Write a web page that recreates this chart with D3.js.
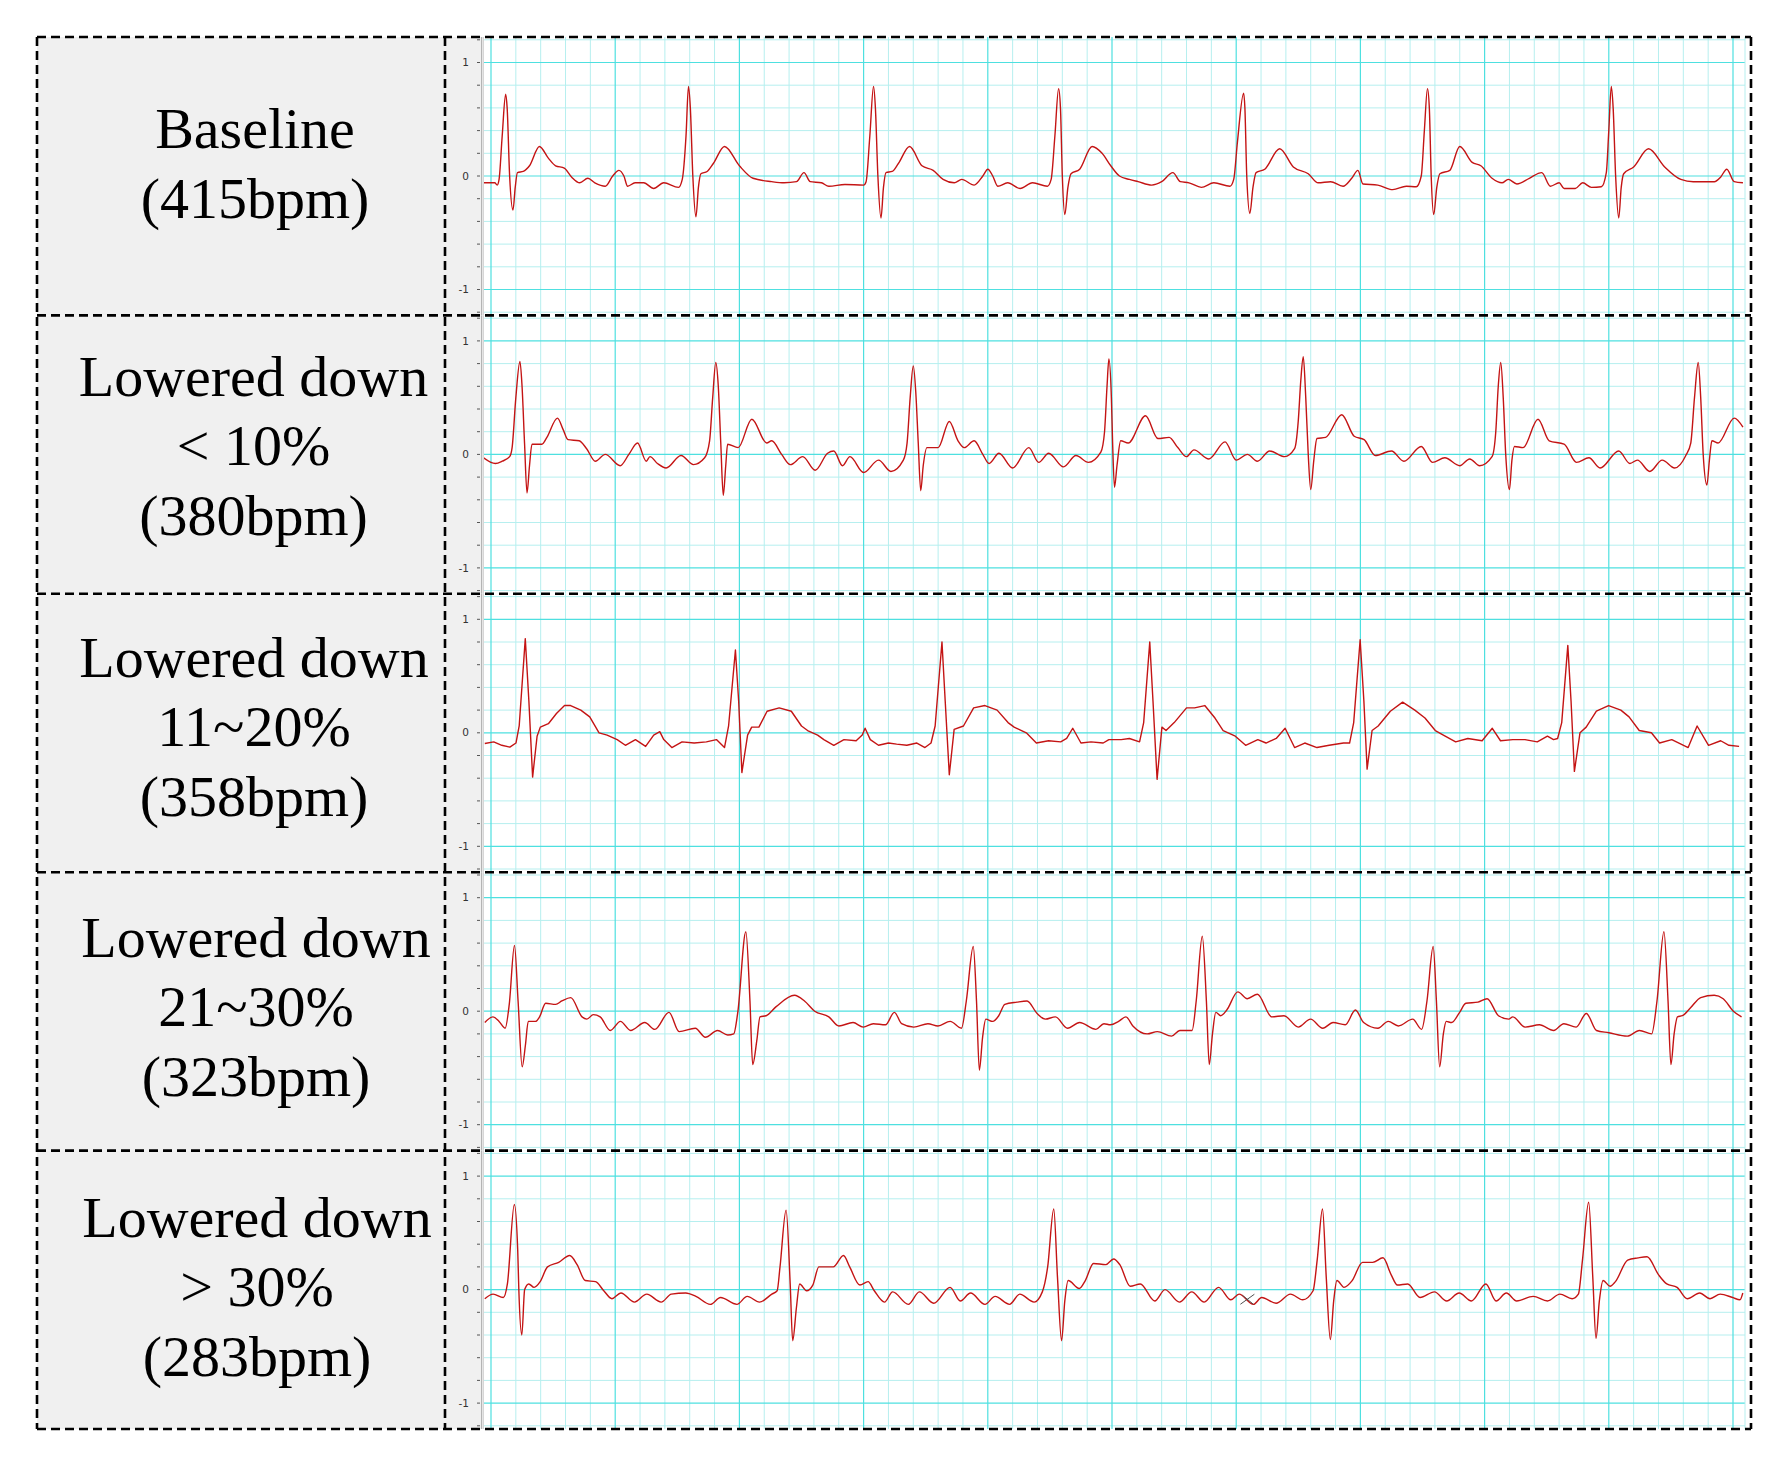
<!DOCTYPE html>
<html>
<head>
<meta charset="utf-8">
<script src="https://cdn.jsdelivr.net/npm/d3@7/dist/d3.min.js"></script>
<style>
  html, body { margin: 0; padding: 0; background: #ffffff; }
  svg { display: block; }
</style>
</head>
<body>
<svg id="chart" width="1791" height="1469"></svg>
<script>
// ---------------- DATA ----------------
const labels = [
  ["Baseline", "(415bpm)"],
  ["Lowered down", "< 10%", "(380bpm)"],
  ["Lowered down", "11~20%", "(358bpm)"],
  ["Lowered down", "21~30%", "(323bpm)"],
  ["Lowered down", "> 30%", "(283bpm)"]
];
const yTickLabels = [1, 0, -1];
const yMinorTicks = [-1.2, -1, -0.8, -0.6, -0.4, -0.2, 0, 0.2, 0.4, 0.6, 0.8, 1, 1.2];

// time (ms), amplitude
const ecgBaseline = [[-6,-0.06],[3,-0.06],[5,-0.08],[6.5,-0.03],[9,0.35],[11.8,0.72],[13,0.6],[15,0.0],[17.7,-0.30],[19.5,-0.1],[21.3,0.03],[26,0.04],[31,0.09],[39,0.26],[46,0.16],[52,0.09],[59,0.07],[65,-0.01],[71.5,-0.06],[78,-0.02],[83.6,-0.06],[92,-0.09],[98,0.0],[103,0.05],[107,0.0],[110,-0.09],[116,-0.06],[123,-0.06],[131,-0.11],[139,-0.06],[151,-0.10],[154,-0.03],[157,0.35],[159,0.79],[160.5,0.6],[162.5,0.0],[165,-0.36],[167,-0.1],[169,0.02],[174,0.04],[179,0.11],[188,0.26],[200,0.09],[211,-0.02],[226,-0.05],[236,-0.06],[246,-0.05],[252,0.03],[257,-0.05],[266,-0.06],[272,-0.09],[285,-0.075],[300,-0.08],[302,-0.05],[305,0.35],[308,0.79],[309.5,0.6],[311.5,0.0],[314,-0.37],[316,-0.1],[318,0.03],[323,0.04],[328,0.11],[337,0.26],[347,0.09],[356,0.05],[364,-0.03],[373,-0.06],[379,-0.03],[389,-0.08],[396,0.0],[400,0.06],[404,0.0],[408,-0.09],[416,-0.06],[426,-0.11],[436,-0.06],[448,-0.09],[451,-0.03],[454,0.35],[457,0.77],[458.5,0.6],[460,0.0],[462,-0.34],[464.5,-0.1],[467,0.02],[474,0.06],[484,0.26],[492,0.20],[499,0.09],[506,0.0],[514,-0.03],[521,-0.05],[532,-0.08],[540,-0.05],[549,0.03],[555,-0.05],[562,-0.06],[572,-0.10],[582,-0.06],[595,-0.09],[598,-0.03],[601,0.3],[606,0.73],[607,0.6],[608.5,0.0],[611,-0.33],[613.5,-0.1],[616,0.03],[623,0.06],[635,0.24],[646,0.08],[658,0.02],[666,-0.06],[676,-0.05],[686,-0.09],[693,-0.02],[698,0.05],[702,-0.07],[714,-0.08],[726,-0.12],[737,-0.09],[745,-0.095],[749,0.0],[751.5,0.4],[754,0.77],[755.5,0.6],[757,0.0],[759,-0.34],[761.5,-0.1],[764,0.02],[772,0.05],[780,0.26],[790,0.12],[797,0.09],[806,-0.02],[814,-0.06],[819,-0.03],[826,-0.07],[836,-0.02],[846,0.03],[853,-0.09],[860,-0.06],[864,-0.11],[873,-0.11],[879,-0.06],[886,-0.10],[894,-0.095],[898,0.03],[900,0.4],[902,0.79],[903.5,0.6],[905.5,0.0],[908,-0.37],[910,-0.1],[912,0.02],[920,0.08],[932,0.24],[945,0.08],[958,-0.03],[968,-0.05],[985,-0.05],[990,-0.01],[995,0.06],[1001,-0.05],[1008,-0.06]];

const ecgLower10 = [[-6,-0.03],[3.5,-0.08],[9,-0.06],[15,-0.02],[17,0.06],[20,0.5],[23.3,0.82],[25,0.6],[27,0.1],[29,-0.34],[31,-0.1],[33,0.09],[41,0.09],[45,0.15],[53.5,0.32],[58,0.22],[62,0.13],[71,0.12],[77,0.05],[84,-0.06],[92,0.0],[104,-0.10],[111,0.0],[118,0.10],[125,-0.06],[128,-0.02],[134,-0.08],[141,-0.12],[153,-0.01],[163,-0.09],[172,-0.03],[176,0.12],[178.5,0.5],[181,0.81],[183,0.6],[185,0.1],[187,-0.36],[189,-0.1],[190.5,0.09],[199,0.06],[210,0.31],[222,0.10],[226,0.12],[234,0.0],[241,-0.09],[251,-0.02],[261,-0.14],[271,0.01],[276,0.03],[283,-0.10],[289,-0.02],[300,-0.16],[312,-0.05],[322,-0.15],[332,-0.05],[335,0.1],[337.5,0.5],[340,0.78],[342,0.55],[344,0.1],[346,-0.32],[348,-0.1],[351,0.06],[360,0.06],[369,0.29],[376,0.12],[381,0.06],[389,0.12],[396,0.0],[401,-0.08],[409,0.01],[420,-0.12],[433,0.06],[441,-0.07],[449,0.01],[461,-0.11],[471,-0.01],[481,-0.07],[491,0.02],[494,0.2],[496,0.6],[497.5,0.84],[499.5,0.5],[500.5,0.1],[502,-0.29],[504,-0.1],[507,0.12],[513,0.10],[527,0.34],[537,0.14],[546,0.15],[553,0.06],[560,-0.02],[566,0.04],[578,-0.04],[591,0.11],[600,-0.05],[609,0.0],[617,-0.06],[627,0.03],[639,-0.02],[647,0.05],[650,0.3],[652,0.65],[654,0.86],[656,0.5],[658,0.0],[660,-0.31],[662.5,-0.05],[665,0.14],[672,0.15],[685,0.35],[695,0.16],[703,0.13],[712,-0.01],[725,0.03],[735,-0.06],[749,0.07],[758,-0.07],[768,-0.03],[780,-0.10],[788,-0.04],[796,-0.10],[806,-0.02],[809,0.2],[811,0.6],[813,0.81],[815,0.5],[817,0.0],[820,-0.31],[822,-0.05],[824,0.07],[831,0.06],[843,0.31],[852,0.12],[864,0.09],[874,-0.07],[884,-0.03],[893,-0.12],[908,0.03],[917,-0.08],[923,-0.05],[933,-0.15],[943,-0.05],[953,-0.12],[962,-0.01],[966,0.1],[969,0.5],[972,0.81],[974,0.5],[976,0.0],[979,-0.27],[981,-0.05],[983,0.12],[988,0.10],[1001,0.32],[1008,0.24]];

const ecgLower20 = [[-5,-0.094],[2.2,-0.08],[8.7,-0.11],[15.2,-0.126],[20.1,-0.09],[22.7,0.06],[27.6,0.83],[30.5,0.28],[33.5,-0.39],[37.1,-0.03],[39.7,0.05],[46.2,0.08],[52.7,0.17],[59.2,0.24],[64.1,0.24],[72.3,0.20],[79.5,0.14],[87,0],[93.5,-0.02],[101.6,-0.06],[108.2,-0.11],[116.3,-0.06],[124.5,-0.12],[131,-0.02],[135.9,0.01],[139.1,-0.06],[145.6,-0.13],[153.8,-0.08],[163.6,-0.09],[173.4,-0.08],[181.5,-0.06],[188,-0.13],[191.3,0.06],[196.8,0.73],[199.4,0.28],[202,-0.35],[206.6,-0.02],[209.9,0.05],[215.7,0.05],[222.3,0.19],[232,0.22],[241.8,0.19],[250,0.06],[254.9,0.02],[263,-0.02],[268,-0.06],[276,-0.11],[284.2,-0.06],[294,-0.07],[298.9,-0.02],[301.2,0.04],[305.4,-0.06],[312,-0.11],[320,-0.09],[326.6,-0.10],[334.8,-0.11],[342.9,-0.09],[349.4,-0.13],[354.3,-0.09],[357.6,0.06],[363.1,0.80],[365.7,0.28],[369,-0.37],[372.9,0.03],[380.4,0.06],[388.6,0.22],[397.7,0.24],[407.5,0.20],[416.3,0.09],[421.2,0.05],[431,0],[439.1,-0.09],[448.9,-0.07],[458.7,-0.08],[463.5,-0.05],[468.4,0.04],[475,-0.09],[483.1,-0.08],[492.9,-0.09],[497.5,-0.06],[507.4,-0.06],[514,-0.05],[522.2,-0.08],[525.5,0.09],[530.4,0.80],[533,0.28],[536.3,-0.41],[540.2,0.05],[543.5,0.02],[550.1,0.09],[560,0.22],[566.5,0.22],[574.7,0.24],[582.9,0.13],[589.5,0.02],[599.3,-0.03],[607.6,-0.11],[617.4,-0.06],[624,-0.09],[632.2,-0.05],[639.4,0.04],[647,-0.13],[655.2,-0.09],[665,-0.13],[674.9,-0.11],[686.4,-0.09],[691.3,-0.09],[694.6,0.09],[699.8,0.82],[702.8,0.28],[705.4,-0.32],[709.4,0.02],[714.3,0.06],[724.1,0.19],[734,0.27],[743.8,0.20],[752,0.13],[760.3,0.02],[766.8,-0.02],[776.7,-0.08],[786.5,-0.05],[798,-0.07],[806.2,0.04],[812.8,-0.07],[822.7,-0.06],[832.5,-0.06],[842.4,-0.08],[850.6,-0.03],[855.5,-0.06],[858.8,-0.05],[862.1,0.09],[867,0.77],[869.6,0.28],[872.3,-0.34],[876.8,0],[881.8,0.05],[890,0.19],[899.8,0.24],[909.7,0.20],[916.3,0.14],[924.5,0.02],[934.3,0],[940.9,-0.09],[950.7,-0.06],[963.9,-0.13],[971.1,0.06],[980.3,-0.11],[990.1,-0.07],[996.7,-0.11],[1004.9,-0.12]];

const ecgLower30 = [[-5,-0.10],[1.6,-0.05],[6.5,-0.09],[11.4,-0.15],[14.7,0.06],[18.9,0.58],[21.8,0.09],[25.1,-0.49],[27.7,-0.30],[30,-0.09],[35.8,-0.09],[39.1,-0.05],[44,0.07],[52.1,0.06],[57,0.09],[64.2,0.12],[73.3,-0.05],[77.2,-0.07],[82.4,-0.03],[87.9,-0.05],[96.1,-0.17],[104.2,-0.09],[112.4,-0.17],[123.8,-0.10],[131.9,-0.16],[143.3,-0.01],[151.5,-0.18],[164.5,-0.15],[172.6,-0.23],[182.4,-0.17],[190.6,-0.21],[195.4,-0.20],[198.7,-0.01],[205.2,0.70],[208.5,0.09],[210.7,-0.47],[214,-0.26],[216.6,-0.05],[221.5,-0.04],[229.6,0.04],[244.3,0.14],[252.4,0.09],[260.6,0],[272,-0.05],[280.1,-0.13],[291.5,-0.10],[299.7,-0.14],[307.8,-0.11],[317.6,-0.12],[324.8,-0.01],[330.6,-0.11],[340.4,-0.14],[351.8,-0.11],[359.9,-0.13],[369.7,-0.09],[378.8,-0.15],[382.7,0.09],[388.3,0.57],[390.9,0.09],[393.2,-0.52],[395.8,-0.23],[398.4,-0.07],[403.9,-0.09],[408.8,-0.04],[413.7,0.06],[423.5,0.08],[431.6,0.09],[439.7,-0.02],[446.3,-0.07],[454.4,-0.05],[464.2,-0.15],[473.9,-0.10],[487,-0.16],[493.5,-0.11],[498.7,-0.12],[505.3,-0.09],[511.2,-0.05],[516.8,-0.13],[528.3,-0.20],[536.5,-0.18],[548,-0.22],[554.6,-0.17],[564.5,-0.17],[567.8,0.09],[572.7,0.66],[576,0.09],[578.3,-0.47],[580.9,-0.20],[583.6,-0.01],[587.5,-0.04],[592.4,0.01],[601.3,0.17],[608.9,0.11],[617.1,0.15],[628.6,-0.05],[638.5,-0.04],[650,-0.14],[659.9,-0.07],[669.7,-0.15],[678,-0.10],[687.8,-0.12],[696,0.01],[702.6,-0.10],[714.1,-0.15],[722.4,-0.09],[730.6,-0.13],[742.1,-0.07],[749.3,-0.16],[753.6,0.09],[758.6,0.57],[761.2,0.09],[763.8,-0.49],[766.8,-0.20],[769.1,-0.09],[773.4,-0.10],[779.9,-0.01],[784.9,0.07],[794.7,0.08],[802,0.11],[811.2,-0.04],[819.4,-0.07],[822.7,-0.05],[832.6,-0.14],[844.1,-0.12],[855.6,-0.17],[863.8,-0.11],[873.7,-0.14],[881.9,-0.02],[890.1,-0.17],[900,-0.19],[914.8,-0.22],[924.7,-0.17],[934.5,-0.20],[938.8,0.09],[944.4,0.70],[947.7,0.09],[950,-0.47],[952.6,-0.20],[955.3,-0.05],[959.2,-0.04],[965.8,0.03],[974,0.12],[984.9,0.14],[992.1,0.11],[1000.3,0],[1006.9,-0.05]];

const ecgOver30 = [[-5,-0.08],[1.7,-0.04],[9.9,-0.07],[13.2,0.05],[18.8,0.75],[21.5,0.35],[22.4,0],[24.8,-0.40],[27.1,0],[30.4,0.05],[34.7,0.02],[39.6,0.07],[45.5,0.20],[54.5,0.24],[63.4,0.30],[69.3,0.22],[75.9,0.08],[84.2,0.07],[90.8,-0.01],[97.4,-0.08],[104.6,-0.03],[115.5,-0.11],[125.4,-0.04],[137,-0.11],[145.2,-0.04],[156.8,-0.03],[165,-0.06],[176.6,-0.13],[184.8,-0.07],[198,-0.13],[206.3,-0.06],[216.2,-0.11],[226.1,-0.04],[230.4,-0.01],[232.7,0.20],[237.6,0.70],[240.9,0.05],[242.9,-0.45],[245.9,-0.16],[248.5,0.05],[254.1,-0.01],[259.1,0.04],[264,0.20],[275.6,0.20],[283.8,0.30],[288.8,0.20],[297,0.04],[303.6,0.07],[308.6,-0.01],[316.8,-0.11],[323.4,-0.02],[336,-0.13],[344.9,-0.02],[356.4,-0.12],[369.6,0.02],[377.9,-0.10],[386.1,-0.03],[397.7,-0.13],[405.9,-0.06],[417.5,-0.13],[425.7,-0.04],[437.3,-0.11],[443.9,-0.02],[448.2,0.20],[453.1,0.71],[456.1,0.11],[459.4,-0.45],[462,-0.10],[464.7,0.08],[473.6,0.01],[478.5,0.08],[485.1,0.23],[495,0.22],[501.3,0.27],[506.3,0.22],[514.6,0.03],[522.8,0.05],[534.4,-0.10],[542.7,0],[554.3,-0.11],[564.2,-0.02],[574.2,-0.11],[585.8,0.02],[595.7,-0.09],[602.3,-0.04],[613.9,-0.13],[620.5,-0.07],[632.1,-0.12],[643.7,-0.04],[653.6,-0.09],[661.9,-0.01],[665.2,0.26],[669.5,0.71],[672.5,0.11],[675.8,-0.44],[678.5,-0.10],[681.1,0.08],[686.8,0.02],[693.4,0.08],[701.7,0.24],[709.9,0.24],[718.2,0.28],[724.8,0.13],[729.8,0.04],[738.1,0.05],[748,-0.07],[759.6,-0.02],[769.5,-0.10],[779.5,-0.03],[789.4,-0.10],[801,0.05],[809.3,-0.10],[817.5,-0.03],[825.8,-0.10],[839.1,-0.06],[850.7,-0.10],[860.6,-0.04],[870.5,-0.08],[875.5,-0.04],[878.8,0.26],[883.8,0.77],[887.1,0.11],[889.7,-0.43],[892.4,-0.10],[895.4,0.08],[901,0.03],[905.3,0.07],[915.2,0.26],[923.5,0.28],[930.8,0.29],[940.1,0.13],[946.7,0.05],[955,0.02],[963.2,-0.08],[973.2,-0.03],[981.5,-0.08],[989.7,-0.04],[999.7,-0.07],[1005.6,-0.09],[1007.9,-0.03]];

const traces = [ecgBaseline, ecgLower10, ecgLower20, ecgLower30, ecgOver30];
const cursorMark = [609, -0.085]; // small cross cursor seen in last panel

// ---------------- LAYOUT ----------------
const leftX = 37, divX = 445, rightX = 1751;
const topY = 37, panelH = 278.4;
const plotL = 484, plotR = 1745;
const labelCx = [255, 253.5, 254, 256, 257];
const labelFirstBase = [111, 80.5, 82.8, 84.6, 86];
const lineGap = 69.5;

const svg = d3.select("#chart");
svg.append("rect").attr("width", 1791).attr("height", 1469).attr("fill", "#ffffff");

const x = d3.scaleLinear().domain([0, 1000]).range([491, 1733]);
const minorT = d3.range(0, 1001, 20);
const majorT = d3.range(0, 1001, 100);

const defs = svg.append("defs");

traces.forEach((data, i) => {
  const top = topY + i * panelH;
  const bot = top + panelH;
  const y = d3.scaleLinear().domain([-1, 1]).range([top + 252.5, top + 25.5]);
  const g = svg.append("g");

  // label cell background
  g.append("rect").attr("x", leftX).attr("y", top).attr("width", divX - leftX).attr("height", panelH)
    .attr("fill", "#f0f0f0");
  // axis strip
  g.append("rect").attr("x", divX).attr("y", top).attr("width", plotL - divX).attr("height", panelH)
    .attr("fill", "#f0f0f0");
  // plot background
  g.append("rect").attr("x", plotL).attr("y", top).attr("width", rightX - plotL).attr("height", panelH)
    .attr("fill", "#ffffff");

  const clipId = "clip" + i;
  defs.append("clipPath").attr("id", clipId).append("rect")
    .attr("x", plotL).attr("y", top).attr("width", plotR - plotL).attr("height", panelH);

  const grid = g.append("g").attr("clip-path", `url(#${clipId})`);
  // minor verticals
  grid.selectAll(".vmin").data(minorT.filter(t => t % 100 !== 0)).join("line")
    .attr("x1", d => x(d)).attr("x2", d => x(d)).attr("y1", top).attr("y2", bot)
    .attr("stroke", "#b6efef").attr("stroke-width", 1);
  // minor horizontals
  grid.selectAll(".hmin").data(yMinorTicks.filter(v => Math.abs(v) !== 1 && v !== 0)).join("line")
    .attr("x1", plotL).attr("x2", plotR).attr("y1", d => y(d)).attr("y2", d => y(d))
    .attr("stroke", "#b6efef").attr("stroke-width", 1);
  // major verticals
  grid.selectAll(".vmaj").data(majorT).join("line")
    .attr("x1", d => x(d)).attr("x2", d => x(d)).attr("y1", top).attr("y2", bot)
    .attr("stroke", "#4ee0e0").attr("stroke-width", 1.2);
  // major horizontals
  grid.selectAll(".hmaj").data(yTickLabels).join("line")
    .attr("x1", plotL).attr("x2", plotR).attr("y1", d => y(d)).attr("y2", d => y(d))
    .attr("stroke", "#4ee0e0").attr("stroke-width", 1.2);
  // plot right edge line
  g.append("line").attr("x1", plotR).attr("x2", plotR).attr("y1", top).attr("y2", bot)
    .attr("stroke", "#b6efef").attr("stroke-width", 1);

  // trace
  const line = d3.line().x(d => x(d[0])).y(d => y(d[1]))
    .curve(i === 2 ? d3.curveLinear : d3.curveMonotoneX);
  grid.append("path").datum(data).attr("d", line)
    .attr("fill", "none").attr("stroke", "#c41414").attr("stroke-width", 1.4)
    .attr("stroke-linejoin", "round");

  if (i === 4) {
    const cx = x(cursorMark[0]), cy = y(cursorMark[1]);
    g.append("path").attr("d", `M${cx - 7},${cy + 5}L${cx + 7},${cy - 5}M${cx - 5},${cy - 4}L${cx + 6},${cy + 5}`)
      .attr("stroke", "#505050").attr("stroke-width", 1).attr("fill", "none");
  }

  // axis lines
  g.append("line").attr("x1", 481.5).attr("x2", 481.5).attr("y1", top).attr("y2", bot)
    .attr("stroke", "#b4b4b4").attr("stroke-width", 1);
  g.append("line").attr("x1", 483.3).attr("x2", 483.3).attr("y1", top).attr("y2", bot)
    .attr("stroke", "#d6d6d6").attr("stroke-width", 1.4);

  // y ticks
  g.selectAll(".tk").data(yMinorTicks.filter(v => y(v) > top + 2 && y(v) < bot - 2)).join("line")
    .attr("x1", 477).attr("x2", 480).attr("y1", d => y(d)).attr("y2", d => y(d))
    .attr("stroke", "#555").attr("stroke-width", 1);
  g.selectAll(".tl").data(yTickLabels).join("text")
    .attr("x", 469).attr("y", d => y(d)).attr("dy", "0.35em")
    .attr("text-anchor", "end")
    .attr("font-family", "DejaVu Sans, sans-serif").attr("font-size", 10.5)
    .attr("fill", "#333")
    .text(d => d);

  // label text
  const lab = labels[i];
  g.selectAll(".lab").data(lab).join("text")
    .attr("x", labelCx[i])
    .attr("y", (d, k) => top + labelFirstBase[i] + k * lineGap)
    .attr("text-anchor", "middle")
    .attr("font-family", "'Liberation Serif', 'Times New Roman', serif")
    .attr("font-size", 58)
    .attr("fill", "#000")
    .text(d => d);
});

// dashed borders
const dash = "9,5";
const borders = svg.append("g").attr("stroke", "#000").attr("stroke-width", 2.6)
  .attr("stroke-dasharray", dash).attr("fill", "none");
const bottomY = topY + 5 * panelH;
[leftX, divX, rightX].forEach(xx => {
  borders.append("line").attr("x1", xx).attr("x2", xx).attr("y1", topY).attr("y2", bottomY);
});
d3.range(6).forEach(k => {
  const yy = topY + k * panelH;
  borders.append("line").attr("x1", leftX).attr("x2", rightX).attr("y1", yy).attr("y2", yy);
});
</script>
</body>
</html>
